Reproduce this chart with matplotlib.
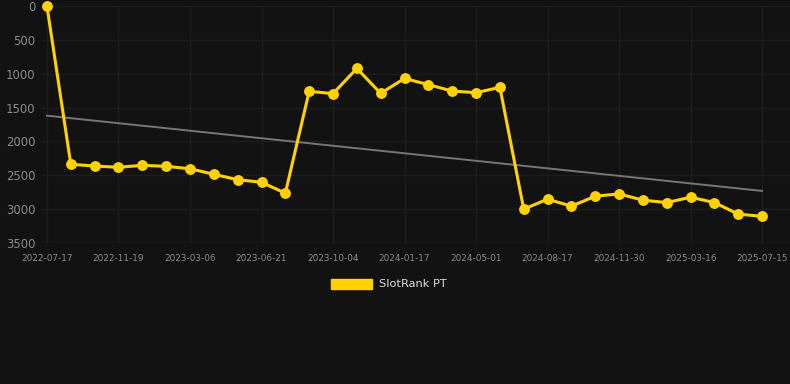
import numpy as np
import matplotlib.pyplot as plt

# daty etykiet (co trzeci punkt)
tick_labels = ["2022-07-17", "2022-11-19", "2023-03-06", "2023-06-21",
               "2023-10-04", "2024-01-17", "2024-05-01", "2024-08-17",
               "2024-11-30", "2025-03-16", "2025-07-15"]

# pozycje w rankingu
ranks = [1, 2338, 2363, 2382, 2353, 2368, 2403, 2485, 2565, 2603, 2765,
         1260, 1294, 922, 1290, 1069, 1162, 1256, 1280, 1201,
         3000, 2853, 2956, 2809, 2775, 2868, 2903, 2824, 2903, 3074, 3106]
series_name = "SlotRank PT"

bg = "#121212"
gold = "#ffd200"

fig = plt.figure(figsize=(7.9, 3.84), dpi=100, facecolor=bg)
ax = fig.add_axes([41 / 790, 1 - 243 / 384, 749 / 790, 237 / 384], facecolor=bg)

x = np.arange(len(ranks))

# linia trendu
a, b = np.polyfit(x, ranks, 1)
ax.plot(x, a * x + b, color="#767676", linewidth=1.4, zorder=2)

ax.plot(x, ranks, color=gold, linewidth=2.2, marker="o", markersize=6.8,
        clip_on=False, zorder=3, label=series_name)

ax.set_ylim(3500, 0)
ax.set_xlim(-0.25, 31.17)
ax.set_yticks(range(0, 3501, 500))
ax.set_xticks(x[::3])
ax.set_xticklabels(tick_labels)

ax.grid(True, color="#1d1d1d", linewidth=1)
ax.axhline(3500, color="#2a2a2a", linewidth=1, zorder=1)
ax.set_axisbelow(True)
for s in ax.spines.values():
    s.set_visible(False)
ax.tick_params(axis="y", colors="#8a8a8a", labelsize=8.4, length=0, pad=4)
ax.tick_params(axis="x", colors="#8a8a8a", labelsize=6.4, length=0, pad=8)

leg = fig.legend(handles=[plt.Rectangle((0, 0), 1, 1, color=gold)],
                 labels=[series_name], loc="center", bbox_to_anchor=(0.492, 1 - 284 / 384),
                 frameon=False, handlelength=3.6, handleheight=1.0, handletextpad=0.6,
                 fontsize=8.2, labelcolor="#dddddd")

fig.savefig("out.png", facecolor=fig.get_facecolor())
